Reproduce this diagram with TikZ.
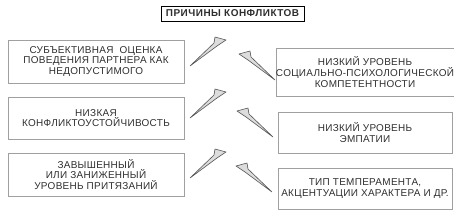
\documentclass[tikz,border=0pt]{standalone}
\usepackage{fontspec}
\setmainfont{Liberation Sans}
\newfontfamily\boxfont[LetterSpace=3]{Liberation Sans}
\newfontfamily\titlefont[LetterSpace=5]{Liberation Sans Bold}
\definecolor{boxgray}{HTML}{A0A0A0}
\definecolor{textgray}{HTML}{2E2E2E}
\definecolor{boltedge}{HTML}{555555}
\definecolor{boltfill}{HTML}{DCDCDC}
\begin{document}
\begin{tikzpicture}[x=1bp,y=-1bp,
  box/.style={draw=boxgray, line width=0.8bp, align=center,
    font=\boxfont\fontsize{10}{10.4}\selectfont, text=textgray, inner sep=0pt},
  bolt/.style={draw=boltedge, fill=boltfill, line width=0.6bp, line join=round},
  lbolt/.pic={\path[bolt] (0,0) -- (24,-23) -- (25,-29) -- (36,-26) -- (27,-20) -- cycle;},
  rbolt/.pic={\path[bolt] (0,0) -- (-24,-23) -- (-25,-29) -- (-36,-26) -- (-27,-20) -- cycle;}]
\useasboundingbox (0,0) rectangle (454,217);
\node[draw=black, line width=0.8bp, minimum width=143bp, minimum height=15bp,
  inner sep=0pt, text=textgray, font=\titlefont\fontsize{10}{10}\selectfont] (title) at (232.5,13.5) {ПРИЧИНЫ КОНФЛИКТОВ};
% left boxes
\node[box, minimum width=176bp, minimum height=43bp] (l1) at (96,61.5)
  {СУБЪЕКТИВНАЯ\ \ ОЦЕНКА\\ПОВЕДЕНИЯ ПАРТНЕРА КАК\\НЕДОПУСТИМОГО};
\node[box, minimum width=176bp, minimum height=42bp] (l2) at (96,118)
  {НИЗКАЯ\\КОНФЛИКТОУСТОЙЧИВОСТЬ};
\node[box, minimum width=176bp, minimum height=43bp] (l3) at (96,174.5)
  {ЗАВЫШЕННЫЙ\\ИЛИ ЗАНИЖЕННЫЙ\\УРОВЕНЬ ПРИТЯЗАНИЙ};
% right boxes
\node[box, minimum width=174bp, minimum height=48bp, font=\boxfont\fontsize{10}{11}\selectfont] (r1) at (365,72.5)
  {НИЗКИЙ УРОВЕНЬ\\СОЦИАЛЬНО-ПСИХОЛОГИЧЕСКОЙ\\КОМПЕТЕНТНОСТИ};
\node[box, minimum width=174bp, minimum height=41bp] (r2) at (365,132.5)
  {НИЗКИЙ УРОВЕНЬ\\ЭМПАТИИ};
\node[box, minimum width=174bp, minimum height=41bp] (r3) at (365,188.5)
  {ТИП ТЕМПЕРАМЕНТА,\\АКЦЕНТУАЦИИ ХАРАКТЕРА И ДР.};
% bolts
\pic at (190,66) {lbolt};
\pic at (190,118) {lbolt};
\pic at (190,178) {lbolt};
\pic at (275,80) {rbolt};
\pic at (273,137) {rbolt};
\pic at (272,192) {rbolt};
\end{tikzpicture}
\end{document}
